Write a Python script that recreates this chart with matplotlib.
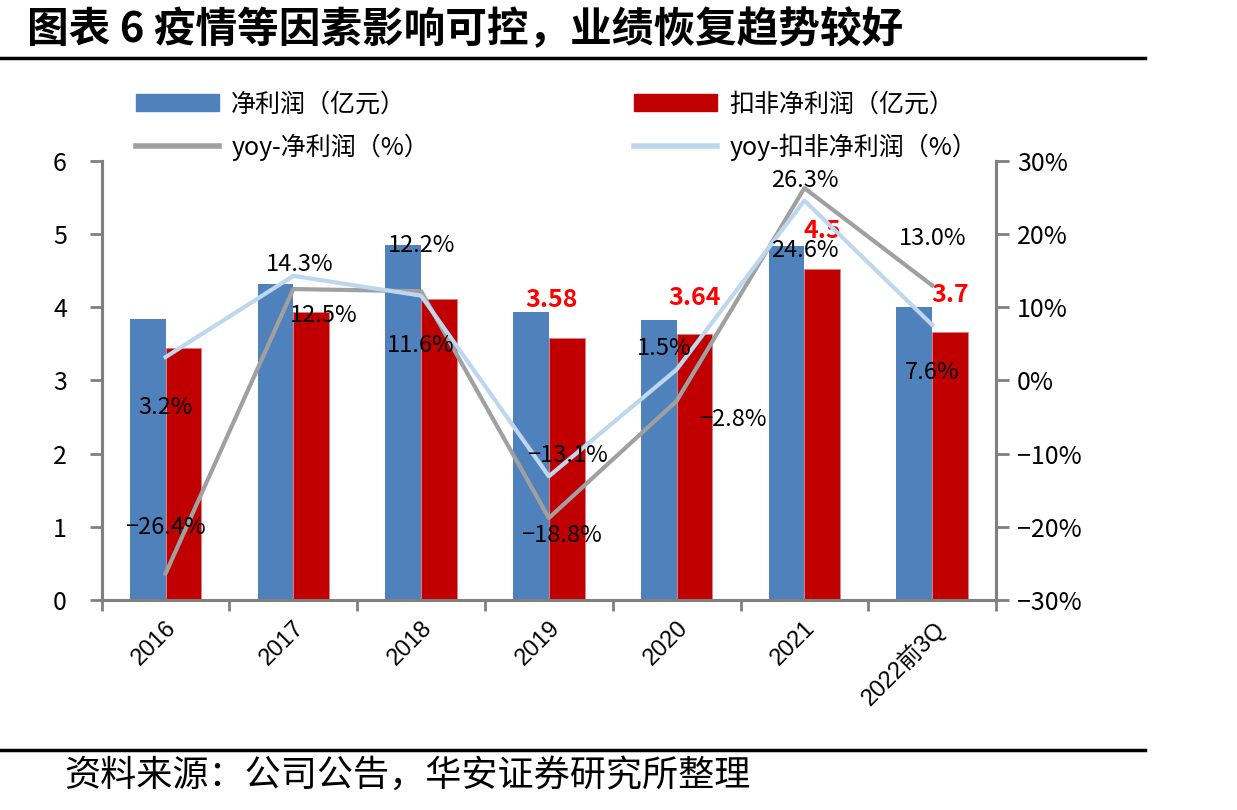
import numpy as np
import matplotlib
matplotlib.use("Agg")
import matplotlib.pyplot as plt
from matplotlib.lines import Line2D
from matplotlib.patches import Patch

plt.rcParams['font.family'] = ['Noto Sans CJK SC', 'DejaVu Sans']

years = ["2016", "2017", "2018", "2019", "2020", "2021", "2022前3Q"]
net_profit = [3.84, 4.32, 4.85, 3.93, 3.83, 4.84, 4.00]
net_profit_dedu = [3.44, 3.93, 4.12, 3.58, 3.64, 4.53, 3.66]
yoy_net = [-26.4, 12.5, 12.2, -18.8, -2.8, 26.3, 13.0]
yoy_dedu = [3.2, 14.3, 11.6, -13.1, 1.5, 24.6, 7.6]
red_labels = ["", "", "", "3.58", "3.64", "4.5", "3.7"]

# label offsets in pixels (dx, dy)
off_net = [(0, 46), (30, -26), (0, 46), (13, -17), (56, -19), (0, 8), (0, 47)]
off_dedu = [(0, -50), (6, 11), (0, -50), (19, 21), (-12, 21), (0, -50), (0, -48)]
off_red = [(0, 37), (0, 37), (0, 37), (-15, 38), (0, 36), (0, 38), (0, 37)]

c_blue = "#4F81BD"
c_red = "#C00000"
c_gray = "#A0A0A0"
c_lblue = "#BDD7EE"
c_axis = "#808080"


def pct(v):
    return f"{v:.1f}%".replace("-", "\u2212")


fig = plt.figure(figsize=(12.37, 8.10), dpi=100)
ax = fig.add_axes([0.0822, 0.2593, 0.7230, 0.5419])
ax2 = ax.twinx()

x = np.arange(len(years))
w = 0.28
ax.bar(x - w / 2, net_profit, w, color=c_blue, zorder=2)
ax.bar(x + w / 2, net_profit_dedu, w, color=c_red, edgecolor="#E08080", linewidth=0.6, zorder=2)

ax2.plot(x, yoy_net, color=c_gray, lw=3, zorder=3)
ax2.plot(x, yoy_dedu, color=c_lblue, lw=3, zorder=3)

for i in range(len(x)):
    ax2.annotate(pct(yoy_net[i]), (x[i], yoy_net[i]), xytext=off_net[i],
                 textcoords="offset pixels", ha="center", va="center", fontsize=17, color="black", zorder=5)
    ax2.annotate(pct(yoy_dedu[i]), (x[i], yoy_dedu[i]), xytext=off_dedu[i],
                 textcoords="offset pixels", ha="center", va="center", fontsize=17, color="black", zorder=5)
    if red_labels[i]:
        ax.annotate(red_labels[i], (x[i] + w / 2, net_profit_dedu[i]), xytext=off_red[i],
                    textcoords="offset pixels", ha="center", va="center", fontsize=18,
                    fontweight="bold", color="#FF0000", zorder=5)

ax.set_xlim(-0.5, len(years) - 0.5)
ax.set_ylim(0, 6)
ax.set_yticks(range(0, 7))
ax2.set_ylim(-30, 30)
ax2.set_yticks(range(-30, 31, 10))
ax2.set_yticklabels([f"{v}%".replace("-", "\u2212") for v in range(-30, 31, 10)])

ax.set_xticks(np.arange(-0.5, len(years), 1.0), minor=False)
ax.set_xticklabels([])
ax.set_xticks(x, minor=True)
ax.set_xticklabels(years, minor=True, rotation=45, ha="right", va="top", rotation_mode="anchor",
                   family=["Liberation Sans", "Noto Sans CJK SC"], fontsize=17)
ax.tick_params(axis="x", which="minor", length=0, pad=12)
ax.tick_params(axis="x", which="major", length=8, width=2, color=c_axis, direction="out")
ax.tick_params(axis="y", length=9, width=2, color=c_axis, labelsize=18, pad=16)
ax2.tick_params(axis="y", length=9, width=2, color=c_axis, labelsize=18, pad=6)

for a in (ax, ax2):
    a.spines["top"].set_visible(False)
    for s in ("left", "right", "bottom"):
        a.spines[s].set_color(c_axis)
        a.spines[s].set_linewidth(2.2)

handles = [Patch(color=c_blue), Line2D([], [], color=c_gray, lw=4),
           Patch(color=c_red), Line2D([], [], color=c_lblue, lw=4)]
labels = ["净利润（亿元）", "yoy-净利润（%）", "扣非净利润（亿元）", "yoy-扣非净利润（%）"]
fig.legend(handles, labels, ncol=2, loc="upper left", bbox_to_anchor=(0.092, 0.915),
           frameon=False, fontsize=18, handlelength=3.3, handleheight=0.7,
           columnspacing=8.2, labelspacing=0.65, handletextpad=0.5)

fig.text(0.022, 1 - 30 / 810, "图表 6 疫情等因素影响可控，业绩恢复趋势较好",
         fontsize=30, fontweight="bold", va="center", ha="left")
fig.add_artist(Line2D([0, 0.926], [1 - 58 / 810] * 2, color="black", lw=2.5))
fig.add_artist(Line2D([0, 0.926], [1 - 750 / 810] * 2, color="black", lw=2.5))
fig.text(0.052, 1 - 776 / 810, "资料来源：公司公告，华安证券研究所整理",
         fontsize=26, va="center", ha="left")

fig.savefig("out.png", dpi=100)
